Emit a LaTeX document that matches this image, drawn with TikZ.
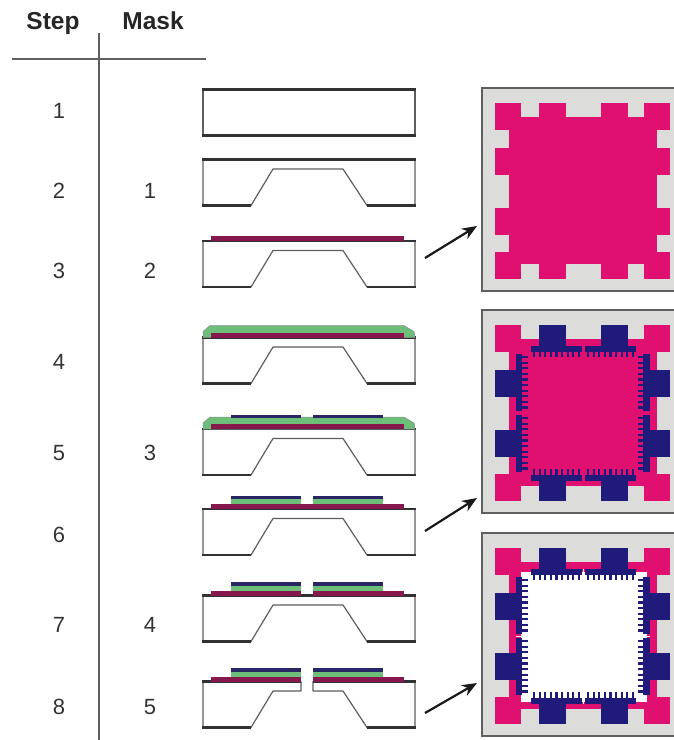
\documentclass[tikz,border=0pt]{standalone}
\usepackage{fontspec}
\setmainfont{Liberation Sans}
\usetikzlibrary{arrows.meta,positioning}
\definecolor{RuleGray}{RGB}{95,95,95}
\definecolor{WaferDark}{RGB}{50,50,52}
\definecolor{PanelGray}{RGB}{220,220,218}
\definecolor{PadPink}{RGB}{224,16,112}
\definecolor{PadBlue}{RGB}{32,26,122}
\definecolor{LayerRed}{RGB}{135,24,78}
\definecolor{LayerGreen}{RGB}{108,190,120}
\definecolor{LayerBlue}{RGB}{40,38,100}
\tikzset{
  headtext/.style={anchor=base,font=\fontsize{24.5}{24.5}\selectfont\bfseries,text=black!85},
  numtext/.style={anchor=base,font=\fontsize{22}{22}\selectfont,text=black!80},
  tablerule/.style={RuleGray,line width=1.4pt},
  waferline/.style={draw=RuleGray,fill=white,line width=1.2pt,line join=round},
  waferedge/.style={WaferDark,line width=2.4pt},
  panelbox/.style={RuleGray,line width=1.3pt},
  callout/.style={-{Stealth[length=15pt,width=12pt]},black!90,line width=2.2pt}
}
\newcommand{\waferplain}[1]{%
  \draw[waferline] (203,#1) rectangle (415,#1+46);
  \draw[waferedge] (202,#1) -- (416,#1);
  \draw[waferedge] (202,#1+46) -- (416,#1+46);
}
\newcommand{\waferpit}[1]{%
  \draw[waferline] (203,#1) -- (415,#1) -- (415,#1+46) -- (367,#1+46) -- (343,#1+9.5)
    -- (273,#1+9.5) -- (251,#1+46) -- (203,#1+46) -- cycle;
  \draw[waferedge] (202,#1) -- (416,#1);
  \draw[waferedge] (202,#1+46) -- (251,#1+46);
  \draw[waferedge] (367,#1+46) -- (416,#1+46);
}
\newcommand{\waferopen}[1]{%
  \draw[waferline] (301,#1) -- (203,#1) -- (203,#1+46) -- (251,#1+46) -- (273,#1+9.5)
    -- (301,#1+9.5) -- cycle;
  \draw[waferline] (313,#1) -- (415,#1) -- (415,#1+46) -- (367,#1+46) -- (343,#1+9.5)
    -- (313,#1+9.5) -- cycle;
  \draw[waferedge] (202,#1) -- (301,#1);
  \draw[waferedge] (313,#1) -- (416,#1);
  \draw[waferedge] (202,#1+46) -- (251,#1+46);
  \draw[waferedge] (367,#1+46) -- (416,#1+46);
}
\newcommand{\greencap}[1]{%
  \fill[LayerGreen,draw=black!45,line width=.5pt] (203,#1) -- (203,#1-6) -- (210,#1-12)
    -- (404,#1-12) -- (414,#1-6) -- (415,#1) -- cycle;
  \fill[LayerRed] (211,#1-5) rectangle (404,#1);
}
\newcommand{\bluetop}[2]{%
  \foreach \xa/\xb in {231/301,313/383}{
    \fill[LayerBlue] (\xa,#1) rectangle (\xb,#2);
  }
}
\newcommand{\greentop}[1]{%
  \foreach \xa/\xb in {231/301,313/383}{
    \fill[LayerGreen] (\xa,#1-10) rectangle (\xb,#1-5);
    \fill[LayerBlue] (\xa,#1-13.5) rectangle (\xb,#1-10);
  }
}
\newcommand{\pinkshape}{%
  \fill[PadPink] (27,29) rectangle (175,176);
  \foreach \xa/\ya in {13/15,162/15,13/164,162/164}{
    \fill[PadPink] (\xa,\ya) rectangle +(26,27);
  }
}
\newcommand{\tabs}[1]{%
  \foreach \xa in {57,119}{
    \fill[#1] (\xa,15) rectangle +(27,26);
    \fill[#1] (\xa,165) rectangle +(27,26);
  }
  \foreach \ya in {60,120}{
    \fill[#1] (13,\ya) rectangle +(26,27);
    \fill[#1] (162,\ya) rectangle +(26,27);
  }
}
\newcommand{\combs}{%
  \foreach \xa in {49,103}{
    \fill[PadBlue] (\xa,36) rectangle +(50.7,5.7);
    \fill[PadBlue] (\xa,165) rectangle +(50.7,5.7);
    \foreach \n in {0,...,8}{
      \fill[PadBlue] ({\xa+2+\n*5.6},41) rectangle +(2.2,6);
      \fill[PadBlue] ({\xa+2+\n*5.6},165) rectangle +(2.2,-6);
    }
  }
  \foreach \ya in {44,105}{
    \fill[PadBlue] (33.7,\ya) rectangle +(6.3,57);
    \fill[PadBlue] (161,\ya) rectangle +(6.6,57);
    \foreach \n in {0,...,9}{
      \fill[PadBlue] (40,{\ya+2+\n*5.6}) rectangle +(5.5,2.2);
      \fill[PadBlue] (161,{\ya+2+\n*5.6}) rectangle +(-5.5,2.2);
    }
  }
}
\newcommand{\panelback}{%
  \fill[PanelGray] (0,0) rectangle (192,203);
  \draw[panelbox] (192,0) -- (0,0) -- (0,203) -- (192,203);
}

\begin{document}
\begin{tikzpicture}[x=1pt,y=-1pt]
  \useasboundingbox (0,0) rectangle (674,740);
  % table head
  \node[headtext] (stephead) at (53,29) {Step};
  \node[headtext] (maskhead) at (153,29) {Mask};
  \coordinate (hruleL) at (12,59);
  \coordinate (hruleR) at (206,59);
  \coordinate (vruleT) at (99,33);
  \coordinate (vruleB) at (99,740);
  \draw[tablerule] (hruleL) -- (hruleR);
  \draw[tablerule] (vruleT) -- (vruleB);
  \foreach \s/\y in {1/110,2/190,3/270,4/361,5/452,6/534,7/624,8/706}{
    \node[numtext] (step\s) at (59,\y+8) {\s};
  }
  \foreach \m/\y in {1/190,2/270,3/452,4/624,5/706}{
    \node[numtext] (mask\m) at (150,\y+8) {\m};
  }
  % process cross sections
  \waferplain{89.5}
  \waferpit{159.5}
  \waferpit{241}
  \fill[LayerRed] (211,236) rectangle (404,241);
  \waferpit{337.5}
  \greencap{337.5}
  \waferpit{429}
  \greencap{429}
  \bluetop{414.5}{418}
  \waferpit{509}
  \fill[LayerRed] (211,504) rectangle (404,509);
  \greentop{509}
  \waferpit{595.5}
  \fill[LayerRed] (211,591) rectangle (301,595.5);
  \fill[LayerRed] (313,591) rectangle (404,595.5);
  \greentop{595.5}
  \waferopen{681.5}
  \fill[LayerRed] (211,677) rectangle (301,681.5);
  \fill[LayerRed] (313,677) rectangle (404,681.5);
  \greentop{681.5}
  % top views
  \begin{scope}[shift={(482,88)}]
    \panelback
    \pinkshape
    \tabs{PadPink}
  \end{scope}
  \begin{scope}[shift={(482,310)}]
    \panelback
    \pinkshape
    \tabs{PadBlue}
    \combs
  \end{scope}
  \begin{scope}[shift={(482,533)}]
    \panelback
    \pinkshape
    \tabs{PadBlue}
    \fill[white] (38.7,38.7) rectangle (165,168.7);
    \combs
    \fill[white] (100.5,36) rectangle +(1.4,6);
    \fill[white] (100.5,165) rectangle +(1.4,6);
    \fill[white] (33.7,102.5) rectangle +(6.3,1.4);
    \fill[white] (161,102.5) rectangle +(6.6,1.4);
  \end{scope}
  % arrows to the top views
  \foreach \n/\ya/\yb in {a/258/226,b/531/498,c/713/683}{
    \coordinate (from\n) at (425,\ya);
    \coordinate (to\n) at (477,\yb);
    \draw[callout] (from\n) -- (to\n);
  }
\end{tikzpicture}
\end{document}
